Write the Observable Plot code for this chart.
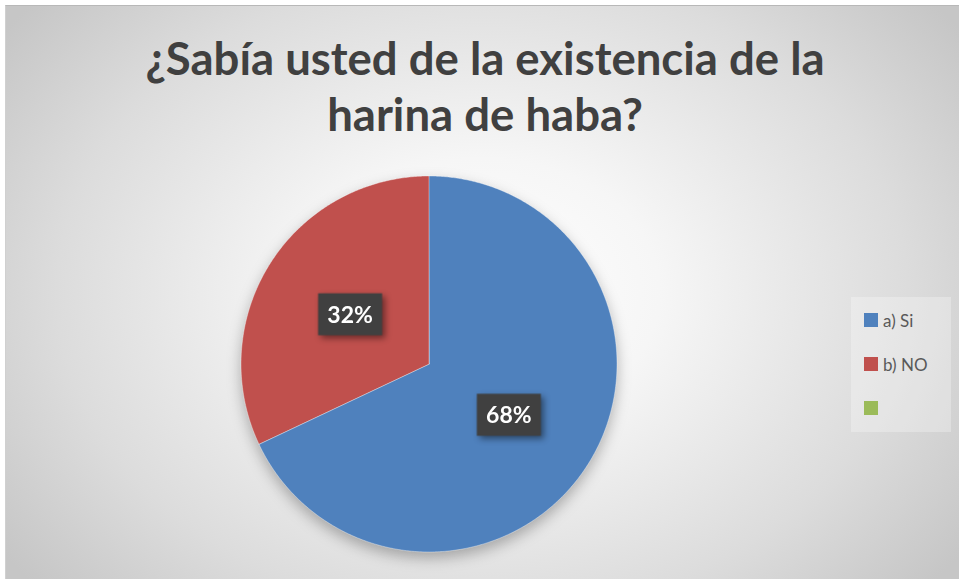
<!DOCTYPE html>
<html>
<head>
<meta charset="utf-8">
<script src="https://cdn.jsdelivr.net/npm/d3@7"></script>
<script src="https://cdn.jsdelivr.net/npm/@observablehq/plot@0.6"></script>
<style>
  html, body { margin: 0; padding: 0; background: #ffffff; }
  #wrap { position: relative; width: 959px; height: 579px; overflow: hidden; }
  #bg { position: absolute; left: 5px; top: 5px; width: 954px; height: 574px;
        box-sizing: border-box; border-top: 1px solid #b8b8b8; border-left: 1px solid #d0d0d0;
        background: radial-gradient(ellipse 62% 78% at 50% 50%, #ffffff 0%, #f6f6f6 30%, #dcdcdc 72%, #c6c6c6 100%); }
  #title { position: absolute; left: 0; top: 30px; width: 970px; text-align: center;
           font-family: Lato, "Open Sans", sans-serif; font-weight: 700; font-size: 45.5px;
           line-height: 56px; color: #404040; }
  #plot { position: absolute; left: 0; top: 0; }
  #plot svg { overflow: visible; }
  .pie-slices { filter: drop-shadow(0px 6px 7px rgba(0,0,0,0.28)); }
  .label-box { filter: drop-shadow(3px 3px 3px rgba(0,0,0,0.45)); }
  #legend { position: absolute; left: 851px; top: 297px; width: 100px; height: 135px;
            background: rgba(255,255,255,0.28); font-family: Lato, "Open Sans", sans-serif;
            font-size: 17px; color: #595959; }
  .li { position: absolute; left: 13px; height: 20px; display: flex; align-items: center; }
  .sw { width: 14px; height: 14px; margin-right: 5px; }
</style>
</head>
<body>
<div id="wrap">
  <div id="bg"></div>
  <div id="title"></div>
  <div id="plot"></div>
  <div id="legend"></div>
</div>
<script>
const categories = ["a) Si", "b) NO", ""];
const values = [68, 32, 0];
const colors = ["#4F81BD", "#C0504D", "#9BBB59"];
const titleLines = ["¿Sabía usted de la existencia de la", "harina de haba?"];

const rows = categories.map((c, i) => ({key: c, value: values[i]}));
const total = d3.sum(values);
const arcs = d3.pie().sort(null).value(d => d.value)(rows);

// arc outline points for each slice, derived from the pie angles
const pts = [];
arcs.forEach(a => {
  if (a.data.value <= 0) return;
  const n = Math.max(2, Math.ceil((a.endAngle - a.startAngle) / (Math.PI / 360)));
  for (let k = 0; k <= n; k++) {
    const t = a.startAngle + (a.endAngle - a.startAngle) * k / n;
    pts.push({key: a.data.key, x: Math.sin(t), y: Math.cos(t), cx: 0, cy: 0});
  }
});

const labels = arcs.filter(a => a.data.value > 0).map(a => {
  const m = (a.startAngle + a.endAngle) / 2;
  return {x: 0.5 * Math.sin(m), y: 0.5 * Math.cos(m),
          text: Math.round(a.data.value / total * 100) + "%"};
});

const boxSymbol = { draw(ctx) { ctx.rect(-32, -21, 64, 42); } };

const chart = Plot.plot({
  width: 959, height: 579,
  x: {domain: [-1, 1], range: [241, 617], axis: null},
  y: {domain: [-1, 1], range: [552, 176], axis: null},
  color: {domain: categories, range: colors},
  style: {background: "transparent"},
  marks: [
    Plot.area(pts, {x1: "x", y1: "y", x2: "cx", y2: "cy", z: "key", fill: "key",
                    stroke: "#ffffff", strokeWidth: 0.6, strokeOpacity: 0.6, className: "pie-slices"}),
    Plot.dot(labels, {x: "x", y: "y", r: 1, symbol: boxSymbol, fill: "#404040",
                      stroke: "none", className: "label-box"}),
    Plot.text(labels, {x: "x", y: "y", text: "text", fill: "#ffffff", fontSize: 23,
                       fontWeight: 700, fontFamily: "Lato, 'Open Sans', sans-serif", dy: 1})
  ]
});
document.getElementById("plot").appendChild(chart);

document.getElementById("title").innerHTML = titleLines.join("<br>");

const leg = document.getElementById("legend");
categories.forEach((c, i) => {
  const d = document.createElement("div");
  d.className = "li";
  d.style.top = (13 + i * 44) + "px";
  d.innerHTML = `<div class="sw" style="background:${colors[i]}"></div><span>${c}</span>`;
  leg.appendChild(d);
});
</script>
</body>
</html>
